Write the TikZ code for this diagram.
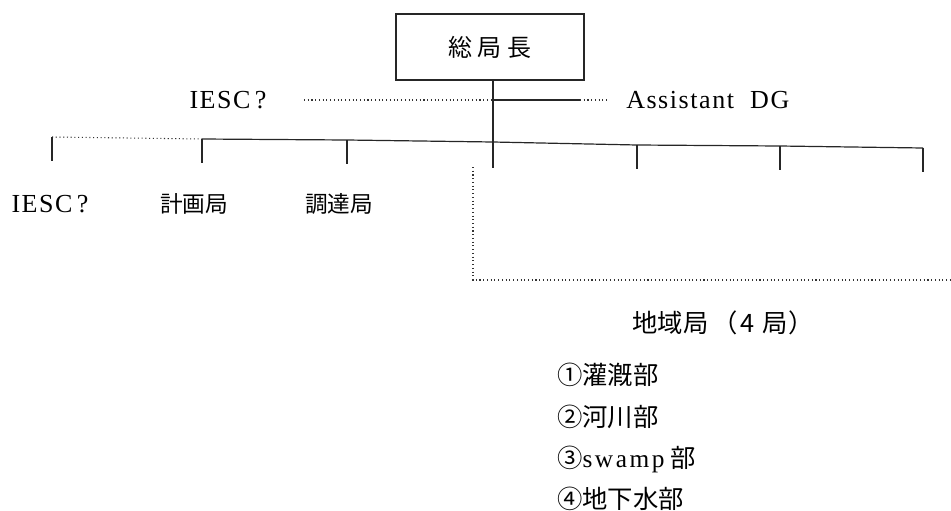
\documentclass[tikz,border=0pt]{standalone}
\usepackage{fontspec}
\setmainfont{Liberation Serif}
\newfontfamily\latsp[LetterSpace=6]{Liberation Serif}
\newfontfamily\latwide[LetterSpace=10]{Liberation Serif}
\newfontfamily\cjk{Noto Sans CJK JP}
\begin{document}
\begin{tikzpicture}[x=0.75pt,y=-0.75pt,
  solidln/.style={line width=0.9pt,draw=black!85},
  dotln/.style={line width=0.8pt,draw=black!80,dotted},
  lbl/.style={inner sep=0pt,font=\latsp\fontsize{19.5}{23}\selectfont},
  cjklbl/.style={inner sep=0pt,font=\cjk\fontsize{17}{20}\selectfont},
  biglbl/.style={inner sep=0pt,font=\cjk\fontsize{19}{22}\selectfont},
  listlbl/.style={inner sep=0pt,anchor=west,font=\cjk\fontsize{19}{22}\selectfont}]
\useasboundingbox (0,0) rectangle (951,511);
% top box
\node[draw=black!85,line width=0.9pt,minimum width=188*0.75pt,minimum height=66*0.75pt,inner sep=0pt,font=\cjk\fontsize{18}{21}\selectfont] (top) at (490,47) {総\hspace{4pt}局\hspace{4pt}長};
\coordinate (vt) at (493,80);
\coordinate (j1) at (493,100);
\coordinate (jb) at (493,142);
\coordinate (vb) at (493,168);
\draw[solidln] (vt) -- (vb);
% IESC? and Assistant DG
\node[lbl] (iesc1) at (228,100) {IESC\,?};
\node[lbl,anchor=west] (adg) at (626,100) {Assistant\ \ DG};
\coordinate (a1) at (580,100);
\coordinate (a2) at (607,100);
\coordinate (ds) at (304,100);
\draw[dotln] (ds) -- (j1);
\draw[solidln] (j1) -- (a1);
\draw[dotln] (a1) -- (a2);
% main bar
\coordinate (t0) at (52,137);
\coordinate (t1) at (202,139);
\coordinate (t2) at (347,140);
\coordinate (t4) at (637,145);
\coordinate (t5) at (780,146);
\coordinate (t6) at (923,148);
\draw[dotln] (t0) -- (t1);
\draw[solidln] (t1) -- (t2) -- (jb) -- (t4) -- (t5) -- (t6);
\foreach \c in {t0,t1,t2,t4,t5,t6} \draw[solidln] (\c) -- ++(0,24);
% lower labels
\node[lbl] (iesc2) at (50,204) {IESC\,?};
\node[cjklbl] (plan) at (194,204) {計画局};
\node[cjklbl] (proc) at (339,204) {調達局};
% dotted bracket
\coordinate (d0) at (473,167);
\coordinate (d1) at (473,280);
\coordinate (d2) at (951,280);
\draw[dotln] (d0) -- (d1) -- (d2);
% regional bureaus
\node[biglbl] (reg) at (723,323) {地域局\hspace{3pt}（\hspace{2pt}4\hspace{6pt}局）};
\node[listlbl] (l1) at (557,375) {①灌漑部};
\node[listlbl] (l2) at (557,417) {②河川部};
\node[listlbl] (l3) at (557,459) {③{\latwide swamp} 部};
\node[listlbl] (l4) at (557,499) {④地下水部};
\end{tikzpicture}
\end{document}
